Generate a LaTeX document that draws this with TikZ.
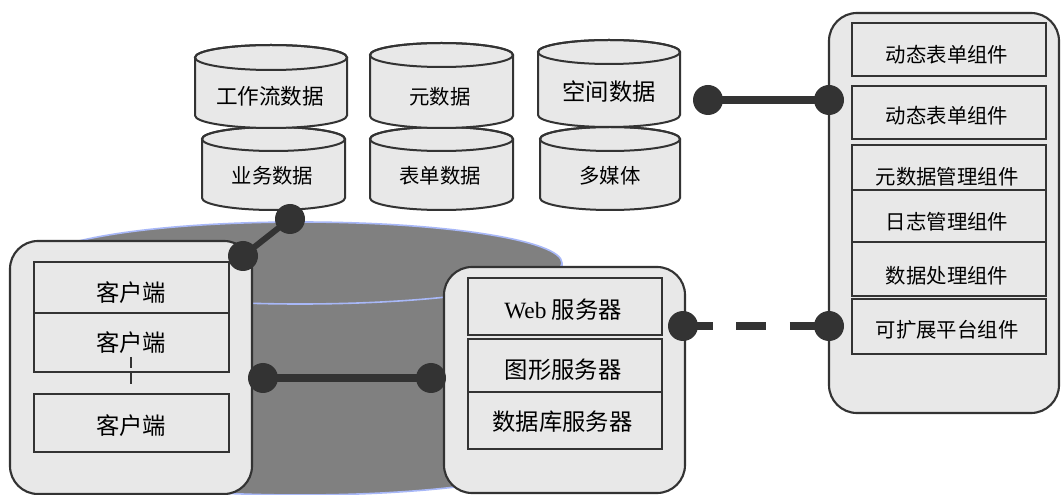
\documentclass[tikz,border=0pt]{standalone}
\usepackage{fontspec}
\setmainfont{Liberation Serif}
\newfontfamily\cjk{Noto Sans CJK SC}
\definecolor{ink}{HTML}{333333}
\definecolor{boxfill}{HTML}{E8E8E8}
\definecolor{cylgray}{HTML}{808080}
\definecolor{cylline}{HTML}{A8B8F8}
\tikzset{
  outerbox/.style={draw=ink, line width=1.6pt, fill=boxfill, rounded corners=21pt},
  innerbox/.style={draw=ink, line width=1.2pt, fill=boxfill},
  wh/.style 2 args={minimum width={#1*0.75pt}, minimum height={#2*0.75pt}, inner sep=0pt},
  lbl/.style={font=\cjk\fontsize{17.5}{20}\selectfont, inner sep=0pt, text=black},
  slbl/.style={font=\cjk\fontsize{15.3}{18}\selectfont, inner sep=0pt, text=black},
  dotc/.style={fill=ink},
  conn/.style={draw=ink, line width=6pt},
  cylbody/.style={fill=boxfill, draw=ink, line width=1.5pt}
}
\newcommand\drum[5]{%
  \path[cylbody] (#1,#3) -- (#1,#4)
    arc[start angle=180, end angle=0, x radius={(#2-#1)/2}, y radius=#5]
    -- (#2,#3)
    arc[start angle=0, end angle=-180, x radius={(#2-#1)/2}, y radius=#5] -- cycle;
  \draw[ink, line width=1.5pt] ({(#1+#2)/2},#3) ellipse[x radius={(#2-#1)/2}, y radius=#5];
}
\begin{document}
\begin{tikzpicture}[x=0.75pt, y=-0.75pt]
\clip (0,0) rectangle (1061,495);
\fill[white] (0,0) rectangle (1061,495);

% big background cylinder
\path[fill=cylgray, draw=cylline, line width=1.2pt] (38,263) -- (38,454)
  arc[start angle=180, end angle=0, x radius=262, y radius=41]
  -- (562,263)
  arc[start angle=0, end angle=-180, x radius=262, y radius=41] -- cycle;
\draw[cylline, line width=1.2pt] (38,263) arc[start angle=180, end angle=0, x radius=262, y radius=41];

% data cylinders (lower row first)
\drum{202}{345}{139}{198}{12}
\drum{370}{513}{139}{198}{12}
\drum{540}{680}{139}{198}{12}
\drum{195}{347}{57.5}{115.5}{12.5}
\drum{370}{513}{55}{116}{12}
\drum{538}{680}{52}{115}{12}

\node[lbl, font=\cjk\fontsize{16.2}{18}\selectfont] (gzl) at (270,96.5) {工作流数据};
\node[slbl] (yds) at (440,96.5) {元数据};
\node[lbl] (kjs) at (609,92) {空间数据};
\node[slbl] (ywsj) at (272.5,176) {业务数据};
\node[slbl] (bdsj) at (440,176) {表单数据};
\node[slbl] (dmt) at (610,176) {多媒体};

% client box
\node[outerbox, wh={242}{253}] (client) at (131,367.5) {};
\node[innerbox, wh={195}{51}] (c1) at (131.5,287.5) {};
\node[innerbox, wh={195}{59}] (c2) at (131.5,342.5) {};
\node[innerbox, wh={195}{58}] (c3) at (131.5,423) {};
\node[lbl] (c1t) at (131,292.5) {客户端};
\node[lbl] (c2t) at (131,343) {客户端};
\node[lbl] (c3t) at (131,426) {客户端};
\coordinate (vt) at (131,357);
\coordinate (vb) at (131,386);
\draw[ink, line width=2.2pt, dash pattern=on 8.25pt off 3.75pt] (vt) -- (vb);

% server box
\node[outerbox, wh={241}{226}] (server) at (564.5,380) {};
\node[innerbox, wh={194}{57}] (s1) at (565,306.5) {};
\node[innerbox, wh={194}{53}] (s2) at (565,365.5) {};
\node[innerbox, wh={194}{57}] (s3) at (565,420.5) {};
\node[lbl] (s1t) at (563,310) {{\rmfamily Web} 服务器};
\node[lbl] (s2t) at (563,370) {图形服务器};
\node[lbl] (s3t) at (562.5,422) {数据库服务器};

% component box
\node[outerbox, wh={230}{400}] (comp) at (944,213) {};
\node[innerbox, wh={194}{53}] (r1) at (949,49.5) {};
\node[innerbox, wh={194}{53}] (r2) at (949,112.5) {};
\node[innerbox, wh={194}{45}] (r3) at (949,167.5) {};
\node[innerbox, wh={194}{52}] (r4) at (949,216) {};
\node[innerbox, wh={194}{54}] (r5) at (949,269) {};
\node[innerbox, wh={194}{55}] (r6) at (949,326.5) {};
\node[slbl] (r1t) at (947,55) {动态表单组件};
\node[slbl] (r2t) at (947,116) {动态表单组件};
\node[slbl] (r3t) at (947,177) {元数据管理组件};
\node[slbl] (r4t) at (947,221.5) {日志管理组件};
\node[slbl] (r5t) at (947,276) {数据处理组件};
\node[slbl] (r6t) at (947,330) {可扩展平台组件};

% connector end points
\coordinate (d1) at (243,256);
\coordinate (d2) at (290,219);
\coordinate (d3) at (263,378);
\coordinate (d4) at (431,378);
\coordinate (d5) at (683,326);
\coordinate (d6) at (829,326);
\coordinate (d7) at (708,100);
\coordinate (d8) at (829,100);

\draw[conn, line width=4.5pt] (d1) -- (d2);
\draw[conn] (d3) -- (d4);
\draw[conn, dash pattern=on 22.5pt off 17.6pt] (d5) -- (d6);
\draw[conn] (d7) -- (d8);
\foreach \d in {d1,d2,d3,d4,d5,d6,d7,d8} \fill[dotc] (\d) circle[radius=15];
\end{tikzpicture}
\end{document}
